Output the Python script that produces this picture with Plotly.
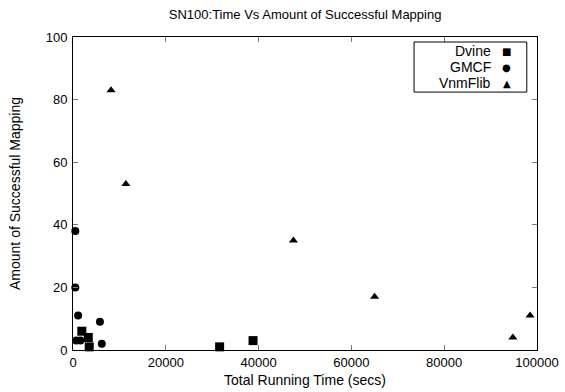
import plotly.graph_objects as go

# Running time (secs) vs. number of successful mappings per algorithm
dvine_time = [1900, 3300, 3500, 31600, 38800]
dvine_count = [6, 4, 1, 1, 3]

gmcf_time = [500, 500, 1100, 5800, 6200, 700, 1600]
gmcf_count = [38, 20, 11, 9, 2, 3, 3]

vnm_time = [8200, 11400, 47500, 65000, 94800, 98500]
vnm_count = [83, 53, 35, 17, 4, 11]

x_ticks = [0, 20000, 40000, 60000, 80000, 100000]
y_ticks = [0, 20, 40, 60, 80, 100]

series = [
    ("Dvine", dvine_time, dvine_count, "square", 9, "■"),
    ("GMCF", gmcf_time, gmcf_count, "circle", 8, "●"),
    ("VnmFlib", vnm_time, vnm_count, "triangle-up", 8, "▲"),
]

FONT = "Liberation Sans, Arial, Helvetica, sans-serif"

fig = go.Figure()
for name, xs, ys, sym, size, _ in series:
    fig.add_trace(go.Scatter(
        x=xs, y=ys, mode="markers", name=name,
        marker=dict(symbol=sym, size=size, color="black", line=dict(width=0)),
        cliponaxis=False, showlegend=False,
    ))

axis_common = dict(
    showgrid=False, zeroline=False, showline=True, linecolor="black",
    linewidth=1, mirror="ticks", ticks="inside", ticklen=5,
    tickcolor="#777777", tickwidth=1, automargin=False,
    tickfont=dict(family=FONT, size=13, color="black"),
)

fig.update_xaxes(range=[0, 100000], tickvals=x_ticks,
                 ticktext=[str(v) for v in x_ticks],
                 title=dict(text="Total Running Time (secs)", standoff=6,
                            font=dict(family=FONT, size=14, color="black")),
                 **axis_common)
fig.update_yaxes(range=[0, 100], tickvals=y_ticks,
                 ticktext=[str(v) for v in y_ticks],
                 title=dict(text="Amount of Successful Mapping", standoff=21,
                            font=dict(family=FONT, size=14, color="black")),
                 ticklabelstandoff=2,
                 **axis_common)

# Boxed key in the upper right: names right-aligned, symbol after each
fig.add_shape(type="rect", xref="paper", yref="paper",
              x0=0.735, x1=0.978, y0=0.824, y1=0.984,
              line=dict(color="black", width=1), fillcolor="white")
row_y = [0.955, 0.904, 0.853]
for (name, _, _, _, _, glyph), yy in zip(series, row_y):
    fig.add_annotation(xref="paper", yref="paper", x=0.905, y=yy,
                       text=name, showarrow=False, xanchor="right",
                       yanchor="middle",
                       font=dict(family=FONT, size=14, color="black"))
    fig.add_annotation(xref="paper", yref="paper", x=0.935, y=yy,
                       text=glyph, showarrow=False, xanchor="center",
                       yanchor="middle",
                       font=dict(family="DejaVu Sans", size=10, color="black"))

fig.update_layout(
    width=565, height=392,
    margin=dict(l=73, r=28, t=37, b=42),
    paper_bgcolor="white", plot_bgcolor="white",
    title=dict(text="SN100:Time Vs Amount of Successful Mapping",
               x=0.54, xanchor="center", y=0.962, yanchor="middle",
               font=dict(family=FONT, size=13, color="black")),
    showlegend=False,
)

fig.write_html("out.html")
